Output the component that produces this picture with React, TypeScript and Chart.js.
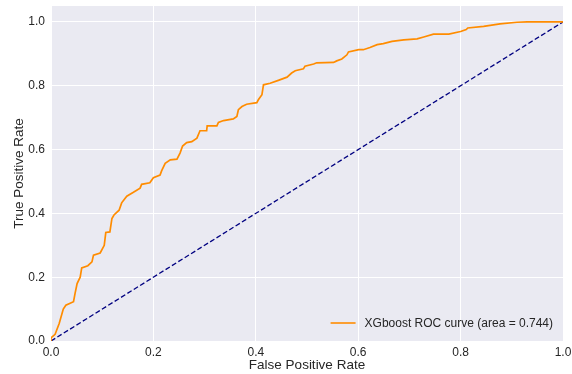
import React, { useEffect, useRef } from "react";
import { Chart, registerables } from "chart.js";

Chart.register(...registerables);

// ROC curve
const fpr = [
  0, 0, 0.008, 0.016, 0.024, 0.029, 0.044, 0.047, 0.051, 0.057,
  0.06, 0.072, 0.08, 0.083, 0.096, 0.104, 0.107, 0.115, 0.119, 0.123,
  0.133, 0.138, 0.148, 0.161, 0.174, 0.177, 0.193, 0.2, 0.213, 0.216,
  0.223, 0.233, 0.246, 0.252, 0.257, 0.265, 0.275, 0.285, 0.291, 0.304,
  0.305, 0.324, 0.327, 0.337, 0.356, 0.363, 0.366, 0.373, 0.382, 0.402,
  0.405, 0.412, 0.415, 0.428, 0.444, 0.461, 0.47, 0.477, 0.493, 0.496,
  0.513, 0.519, 0.552, 0.558, 0.568, 0.578, 0.581, 0.601, 0.61, 0.623,
  0.637, 0.649, 0.666, 0.689, 0.715, 0.728, 0.747, 0.777, 0.8, 0.811,
  0.814, 0.845, 0.877, 0.91, 0.93, 1.0,
];
const tpr = [
  0, 0.01, 0.021, 0.055, 0.1, 0.112, 0.123, 0.149, 0.18, 0.2,
  0.229, 0.236, 0.248, 0.269, 0.276, 0.3, 0.34, 0.342, 0.384, 0.395,
  0.41, 0.433, 0.454, 0.466, 0.479, 0.491, 0.496, 0.512, 0.52, 0.533,
  0.557, 0.568, 0.57, 0.589, 0.611, 0.622, 0.625, 0.636, 0.659, 0.659,
  0.674, 0.674, 0.685, 0.691, 0.696, 0.704, 0.725, 0.735, 0.742, 0.747,
  0.756, 0.772, 0.803, 0.808, 0.817, 0.827, 0.84, 0.847, 0.853, 0.861,
  0.868, 0.872, 0.873, 0.878, 0.884, 0.897, 0.906, 0.913, 0.913, 0.92,
  0.929, 0.932, 0.939, 0.944, 0.947, 0.953, 0.962, 0.962, 0.97, 0.976,
  0.981, 0.986, 0.994, 0.999, 1.0, 1.0,
];
const chanceX = [0, 1];
const chanceY = [0, 1];
const tickValues = [0, 0.2, 0.4, 0.6, 0.8, 1.0];
const curveLabel = "XGboost ROC curve (area = 0.744)";
const xTitle = "False Positive Rate";
const yTitle = "True Positive Rate";

const FONT = "'Liberation Sans', Arial, sans-serif";
const TEXT = "#262626";

const bgPlugin = {
  id: "bgArea",
  beforeDraw(chart: any) {
    const { ctx, chartArea } = chart;
    ctx.save();
    ctx.fillStyle = "#EAEAF2";
    ctx.fillRect(chartArea.left, chartArea.top, chartArea.right - chartArea.left, chartArea.bottom - chartArea.top);
    ctx.restore();
  },
};

const legendPlugin = {
  id: "innerLegend",
  afterDraw(chart: any) {
    const { ctx, chartArea } = chart;
    ctx.save();
    ctx.font = `12px ${FONT}`;
    const w = ctx.measureText(curveLabel).width;
    const y = chartArea.bottom - 18;
    const tx = chartArea.right - 10 - w;
    ctx.strokeStyle = "#FF8C00";
    ctx.lineWidth = 1.6;
    ctx.beginPath();
    ctx.moveTo(tx - 34, y);
    ctx.lineTo(tx - 9, y);
    ctx.stroke();
    ctx.fillStyle = TEXT;
    ctx.textBaseline = "middle";
    ctx.textAlign = "left";
    ctx.fillText(curveLabel, tx, y + 0.5);
    ctx.restore();
  },
};

export default function App() {
  const ref = useRef<HTMLCanvasElement>(null);
  useEffect(() => {
    if (!ref.current) return;
    const chart = new Chart(ref.current, {
      type: "line",
      data: {
        datasets: [
          {
            label: curveLabel,
            data: fpr.map((x, i) => ({ x, y: tpr[i] })),
            borderColor: "#FF8C00",
            borderWidth: 1.7,
            pointRadius: 0,
            fill: false,
            tension: 0,
          },
          {
            label: "chance",
            data: chanceX.map((x, i) => ({ x, y: chanceY[i] })),
            borderColor: "#000080",
            borderWidth: 1.3,
            borderDash: [5, 2.5],
            pointRadius: 0,
            fill: false,
          },
        ],
      },
      options: {
        animation: false,
        responsive: true,
        maintainAspectRatio: false,
        layout: { padding: { left: 0, top: 6, right: 9, bottom: 0 } },
        plugins: { legend: { display: false }, tooltip: { enabled: false } },
        scales: {
          x: {
            type: "linear",
            min: 0,
            max: 1,
            afterBuildTicks: (s: any) => {
              s.ticks = tickValues.map((v) => ({ value: v }));
            },
            afterFit: (s: any) => {
              s.height = 33;
              s.paddingLeft = 0;
              s.paddingRight = 0;
            },
            ticks: {
              callback: (v: any) => Number(v).toFixed(1),
              color: TEXT,
              font: { family: FONT, size: 12 },
              padding: 4,
              maxRotation: 0,
            },
            grid: { color: "#FFFFFF", lineWidth: 1, drawTicks: false },
            border: { display: false },
            title: {
              display: true,
              text: xTitle,
              color: TEXT,
              font: { family: FONT, size: 13.5 },
              padding: { top: 0, bottom: 1 },
            },
          },
          y: {
            type: "linear",
            min: 0,
            max: 1.05,
            afterBuildTicks: (s: any) => {
              s.ticks = tickValues.map((v) => ({ value: v }));
            },
            afterFit: (s: any) => {
              s.width = 51;
              s.paddingTop = 0;
              s.paddingBottom = 0;
            },
            ticks: {
              callback: (v: any) => Number(v).toFixed(1),
              color: TEXT,
              font: { family: FONT, size: 12 },
              padding: 6,
            },
            grid: { color: "#FFFFFF", lineWidth: 1, drawTicks: false },
            border: { display: false },
            title: {
              display: true,
              text: yTitle,
              color: TEXT,
              font: { family: FONT, size: 13.5 },
              padding: { top: 11, bottom: 0 },
            },
          },
        },
      },
      plugins: [bgPlugin, legendPlugin],
    });
    return () => chart.destroy();
  }, []);
  return (
    <div style={{ position: "fixed", left: 0, top: 0, width: 572, height: 374, background: "#fff" }}>
      <canvas ref={ref} />
    </div>
  );
}
